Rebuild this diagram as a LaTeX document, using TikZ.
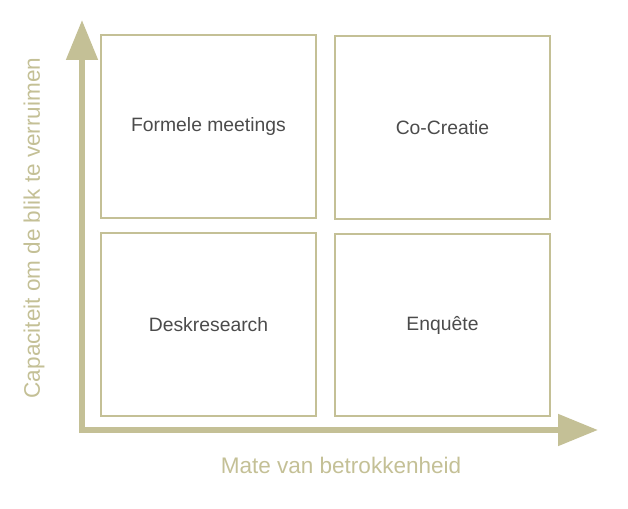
\documentclass[tikz,border=0pt]{standalone}
\usepackage{fontspec}
\setmainfont{Liberation Sans}
\usetikzlibrary{arrows.meta}
\definecolor{khaki}{RGB}{196,192,150}
\definecolor{tekst}{RGB}{75,75,75}
\tikzset{
  vak/.style={draw=khaki,line width=1.6pt,minimum width=161pt,minimum height=137pt,
    text=tekst,font=\fontsize{14.5}{17}\selectfont},
  as/.style={khaki,line width=4.5pt,-{Triangle[width=23pt,length=30pt]}},
  aslabel/.style={text=khaki,font=\fontsize{16.9}{20}\selectfont}
}
\begin{document}
\begin{tikzpicture}[x=0.75pt,y=-0.75pt]
\useasboundingbox (0,0) rectangle (628,509);
\node[vak] (formeel) at (208.5,126.5) {Formele meetings};
\node[vak] (cocreatie) at (442.5,127.5) {Co-Creatie};
\node[vak] (desk) at (208.5,324.5) {Deskresearch};
\node[vak] (enquete) at (442.5,325) {Enquête};
\coordinate (oorsprong) at (82,430);
\coordinate (ytop) at (82,20);
\coordinate (xeind) at (598,430);
\draw[as] ([xshift=-2.25pt]oorsprong) -- (xeind);
\draw[as] ([yshift=-2.25pt]oorsprong) -- (ytop);
\node[aslabel] (xlabel) at (341,465) {Mate van betrokkenheid};
\node[aslabel,rotate=90] (ylabel) at (34,228) {Capaciteit om de blik te verruimen};
\end{tikzpicture}
\end{document}
